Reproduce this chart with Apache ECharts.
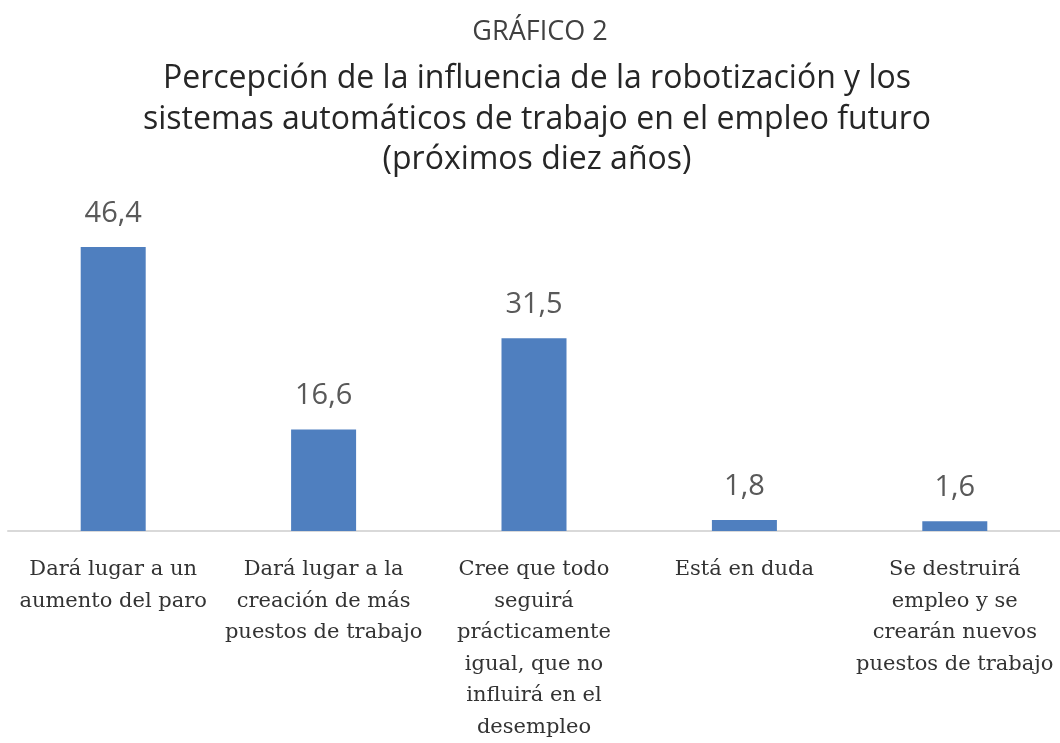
<!DOCTYPE html>
<html>
<head>
<meta charset="utf-8">
<script src="https://cdn.jsdelivr.net/npm/echarts@6/dist/echarts.min.js"></script>
<style>
html,body{margin:0;padding:0;background:#fff;overflow:hidden;}
#chart{width:1060px;height:743px;}
</style>
</head>
<body>
<div id="chart"></div>
<script>
const supTitle = "GRÁFICO 2";
const mainTitle = "Percepción de la influencia de la robotización y los\nsistemas automáticos de trabajo en el empleo futuro\n(próximos diez años)";
const categories = [
  "Dará lugar a un\naumento del paro",
  "Dará lugar a la\ncreación de más\npuestos de trabajo",
  "Cree que todo\nseguirá\nprácticamente\nigual, que no\ninfluirá en el\ndesempleo",
  "Está en duda",
  "Se destruirá\nempleo y se\ncrearán nuevos\npuestos de trabajo"
];
const values = [46.4, 16.6, 31.5, 1.8, 1.6];

const chart = echarts.init(document.getElementById('chart'));
chart.setOption({
  backgroundColor: '#ffffff',
  animation: false,
  title: [
    {
      text: supTitle, left: 535, top: 14, textAlign: 'center',
      textStyle: {fontFamily: 'Open Sans', fontSize: 27, fontWeight: 'normal', color: '#404040'}
    },
    {
      text: mainTitle, left: 532, top: 54, textAlign: 'center',
      textStyle: {fontFamily: 'Open Sans', fontSize: 32, fontWeight: 'normal', color: '#262626', lineHeight: 40.5, align: 'center'}
    }
  ],
  grid: {left: 8, right: 0, top: 225, height: 312, containLabel: false},
  xAxis: {
    type: 'category',
    data: categories,
    axisLine: {show: true, lineStyle: {color: '#d9d9d9', width: 2}},
    axisTick: {show: false},
    axisLabel: {
      interval: 0, margin: 23,
      fontFamily: 'DejaVu Serif', fontSize: 21, color: '#333333', lineHeight: 31.5
    }
  },
  yAxis: {
    type: 'value', min: 0, max: 50, show: false,
    splitLine: {show: false}
  },
  series: [{
    type: 'bar',
    data: values,
    barWidth: 65,
    itemStyle: {color: '#4f7fbf'},
    label: {
      show: true, position: 'top', distance: 19,
      fontFamily: 'Open Sans', fontSize: 29, color: '#595959',
      formatter: p => String(p.value).replace('.', ',')
    }
  }]
});
</script>
</body>
</html>
